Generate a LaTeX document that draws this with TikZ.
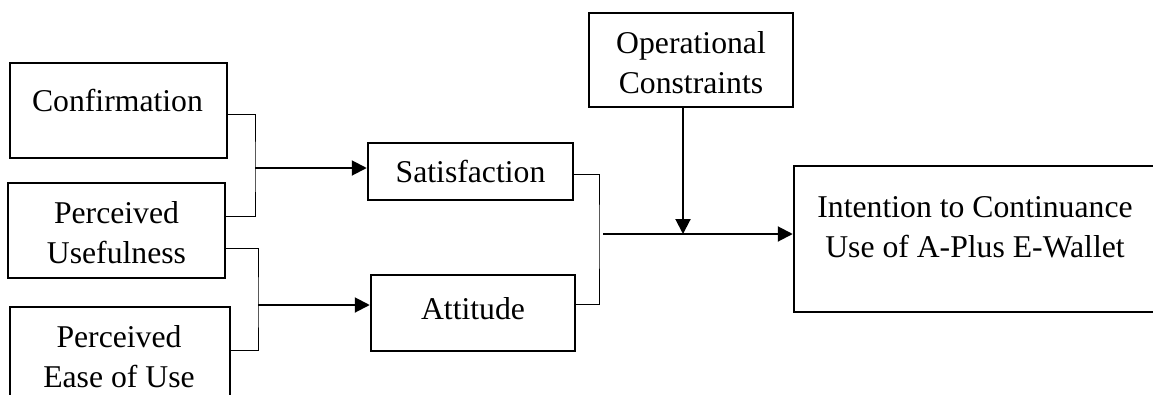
\documentclass[tikz,border=0pt]{standalone}
\usepackage{fontspec}
\setmainfont{Liberation Serif}
\usetikzlibrary{arrows.meta}
\tikzset{
  box/.style={draw, line width=2.5pt, inner sep=0pt},
  txt/.style={inner sep=0pt, align=center, font=\fontsize{31.7}{40}\selectfont},
  arr/.style={line width=2pt, -{Triangle[length=15pt,width=15pt]}},
  brk/.style={line width=1pt}
}
\begin{document}
\begin{tikzpicture}[x=1pt,y=-1pt]
        \useasboundingbox (0,0) rectangle (1153,394);
        \clip (0,0) rectangle (1153,394);
        % boxes
        \node[box, minimum width=217pt, minimum height=95pt] (conf) at (118.5,110.5) {};
        \node[box, minimum width=217pt, minimum height=95pt] (pu) at (116.5,230.5) {};
        \node[box, minimum width=220pt, minimum height=113pt] (ease) at (120,363.5) {};
        \node[box, minimum width=205pt, minimum height=57pt] (sat) at (470.5,171.5) {};
        \node[box, minimum width=204pt, minimum height=76pt] (att) at (473,313) {};
        \node[box, minimum width=204pt, minimum height=94pt] (op) at (691,60) {};
        \node[box, minimum width=371pt, minimum height=146pt] (int) at (979.5,239) {};
        % lecter
        \node[txt, anchor=base] (conf-t) at (117.5,111) {Confirmation};
        \node[txt] (pu-t) at (116.5,232.8) {Perceived\\Usefulness};
        \node[txt] (ease-t) at (119,357) {Perceived\\Ease of Use};
        \node[txt, anchor=base] (sat-t) at (470.5,182) {Satisfaction};
        \node[txt, anchor=base] (att-t) at (473,319) {Attitude};
        \node[txt] (op-t) at (691,62.2) {Operational\\Constraints};
        \node[txt] (int-t) at (975,227.7) {Intention to Continuance\\Use of A-Plus E-Wallet};
        % line
        \coordinate (j1) at (255,168);\coordinate (j2) at (258,305);\coordinate (j3) at (599,234);\coordinate (m) at (683,234);
        \draw[brk] (conf.east |- 0,114) -| (j1) |- (pu.east |- 0,216);
        \draw[brk] (pu.east |- 0,248) -| (j2) |- (ease.east |- 0,350);
        \draw[brk] (sat.east |- 0,174) -| (j3) |- (att.east |- 0,304);
        % arrow
        \draw[arr] (j1) -- (sat.west |- j1);
        \draw[arr] (j2) -- (att.west |- j2);
        \draw[arr] ([xshift=4pt]j3) -- (int.west |- j3);
        \draw[arr] (m |- op.south) -- (m);
\end{tikzpicture}
\end{document}
